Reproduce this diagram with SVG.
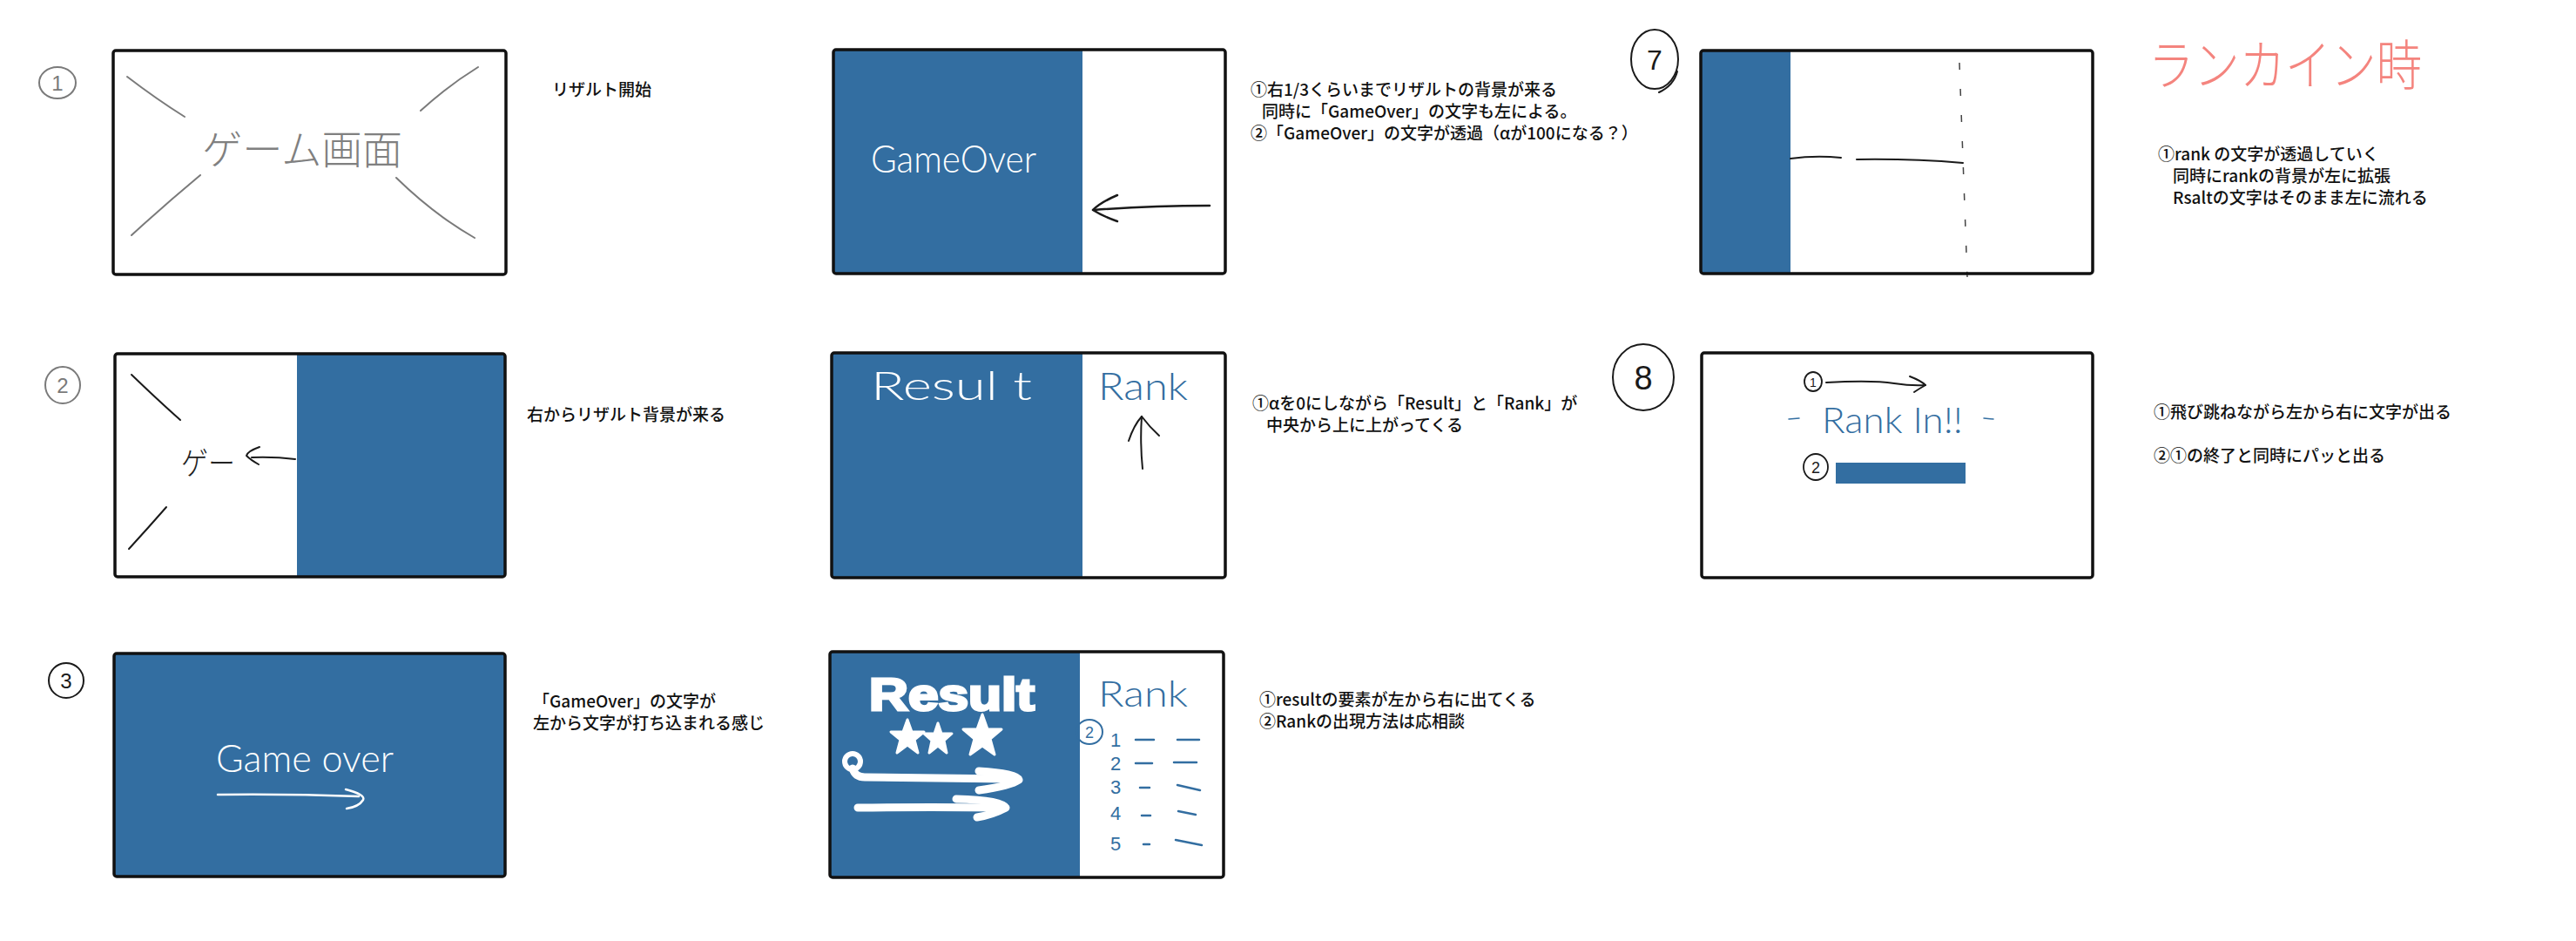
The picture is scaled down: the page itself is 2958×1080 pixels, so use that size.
<svg xmlns="http://www.w3.org/2000/svg" width="2958" height="1080" viewBox="0 0 2958 1080">
<defs>
<style>
.bg{fill:#ffffff}
.frame{fill:none;stroke:#111;stroke-width:3.5;stroke-linejoin:round}
.paper{fill:#ffffff}
.blue{fill:#336ea1}
.note{font-family:"Noto Sans CJK JP","Noto Sans",sans-serif;font-size:19px;font-weight:500;fill:#111}
.hw{font-family:Lato,"Liberation Sans","Noto Sans CJK JP",sans-serif;font-weight:300}
.gray{stroke:#7a7a7a;stroke-width:2;fill:none;stroke-linecap:round}
.ink{stroke:#1a1a1a;stroke-width:2.5;fill:none;stroke-linecap:round;stroke-linejoin:round}
.winks{stroke:#ffffff;stroke-width:2.5;fill:none;stroke-linecap:round;stroke-linejoin:round}
.wthick{stroke:#ffffff;stroke-width:9;fill:none;stroke-linecap:round;stroke-linejoin:round}
.binks{stroke:#336ea1;stroke-width:2.5;fill:none;stroke-linecap:round}
.num{font-family:"Liberation Sans",sans-serif;text-anchor:middle}
</style>
</defs>
<rect class="bg" x="0" y="0" width="2958" height="1080"/>

<!-- Step 1 -->
<g id="step1">
  <ellipse cx="66" cy="95" rx="21" ry="18" class="gray"/>
  <text x="66" y="104" class="num" font-size="24" fill="#7a7a7a">1</text>
  <rect x="130" y="58" width="451" height="257" rx="3" class="paper"/>
  <path class="gray" d="M146,88 Q180,114 212,134"/>
  <path class="gray" d="M549,77 Q515,98 483,127"/>
  <path class="gray" d="M230,201 Q188,236 151,270"/>
  <path class="gray" d="M455,204 Q498,246 545,273"/>
  <text x="232" y="188" font-family="Noto Sans CJK JP,sans-serif" font-weight="300" font-size="46" fill="#808080" textLength="230" lengthAdjust="spacingAndGlyphs">ゲーム画面</text>
  <rect x="130" y="58" width="451" height="257" rx="3" class="frame"/>
  <text x="634" y="110" class="note">リザルト開始</text>
</g>

<!-- Step 2 -->
<g id="step2">
  <ellipse cx="72" cy="442" rx="20" ry="21" class="gray"/>
  <text x="72" y="451" class="num" font-size="24" fill="#7a7a7a">2</text>
  <rect x="132" y="406" width="448" height="256" rx="3" class="paper"/>
  <rect x="341" y="406" width="239" height="256" class="blue"/>
  <path class="ink" style="stroke-width:2" d="M151,430 Q180,458 207,482"/>
  <path class="ink" style="stroke-width:2" d="M191,582 Q170,606 148,630"/>
  <text x="208" y="545" font-family="Noto Sans CJK JP,sans-serif" font-weight="300" font-size="36" fill="#222" textLength="62" lengthAdjust="spacingAndGlyphs">ゲー</text>
  <path class="ink" style="stroke-width:2" d="M298,513 Q284,518 283,523 Q288,528 297,533"/>
  <path class="ink" style="stroke-width:2" d="M289,525 Q315,524 339,527"/>
  <rect x="132" y="406" width="448" height="256" rx="3" class="frame"/>
  <text x="605" y="483" class="note">右からリザルト背景が来る</text>
</g>

<!-- Step 3 -->
<g id="step3">
  <ellipse cx="76" cy="781" rx="20" ry="20" class="ink" style="stroke-width:2"/>
  <text x="76" y="790" class="num" font-size="24" fill="#1a1a1a">3</text>
  <rect x="131" y="750" width="449" height="256" rx="3" class="blue"/>
  <text x="248" y="886" class="hw" font-size="44" fill="#ffffff" textLength="204" lengthAdjust="spacingAndGlyphs">Game over</text>
  <path class="winks" d="M250,912 Q330,911 412,914"/>
  <path class="winks" d="M397,906 Q420,912 417,918 Q412,926 398,928"/>
  <rect x="131" y="750" width="449" height="256" rx="3" class="frame"/>
  <text x="612" y="812" class="note">「GameOver」の文字が</text>
  <text x="612" y="837" class="note">左から文字が打ち込まれる感じ</text>
</g>

<!-- Step 4 -->
<g id="step4">
  <rect x="957" y="57" width="450" height="257" rx="3" class="paper"/>
  <rect x="957" y="57" width="286" height="257" class="blue"/>
  <text x="1000" y="198" class="hw" font-size="44" fill="#ffffff" textLength="190" lengthAdjust="spacingAndGlyphs">GameOver</text>
  <path class="ink" d="M1389,236 Q1320,236 1256,241"/>
  <path class="ink" d="M1283,224 Q1264,232 1255,241 Q1266,248 1283,254"/>
  <rect x="957" y="57" width="450" height="257" rx="3" class="frame"/>
  <text x="1436" y="110" class="note">①右1/3くらいまでリザルトの背景が来る</text>
  <text x="1449" y="135" class="note">同時に「GameOver」の文字も左による。</text>
  <text x="1436" y="160" class="note">②「GameOver」の文字が透過（αが100になる？）</text>
</g>

<!-- Step 5 -->
<g id="step5">
  <rect x="955" y="405" width="452" height="258" rx="3" class="paper"/>
  <rect x="955" y="405" width="288" height="258" class="blue"/>
  <text x="1000" y="459" class="hw" font-size="46" fill="#ffffff" textLength="185" lengthAdjust="spacingAndGlyphs">Resul t</text>
  <text x="1261" y="459" class="hw" font-size="44" fill="#336ea1" textLength="103" lengthAdjust="spacingAndGlyphs">Rank</text>
  <path class="ink" style="stroke-width:2" d="M1311,478 Q1309,508 1312,538"/>
  <path class="ink" style="stroke-width:2" d="M1296,506 Q1302,488 1311,478 Q1320,490 1331,500"/>
  <rect x="955" y="405" width="452" height="258" rx="3" class="frame"/>
  <text x="1438" y="470" class="note">①αを0にしながら「Result」と「Rank」が</text>
  <text x="1454" y="495" class="note">中央から上に上がってくる</text>
</g>

<!-- Step 6 -->
<g id="step6">
  <rect x="953" y="748" width="452" height="259" rx="3" class="paper"/>
  <rect x="953" y="748" width="287" height="259" class="blue"/>
  <text x="998" y="815" font-family="Liberation Sans,sans-serif" font-size="52" font-weight="bold" fill="#ffffff" stroke="#ffffff" stroke-width="3" textLength="190" lengthAdjust="spacingAndGlyphs">Result</text>
  <polygon fill="#ffffff" stroke="#ffffff" stroke-width="3" stroke-linejoin="round" points="1042,826 1047,840 1061,840 1050,849 1054,864 1042,855 1030,864 1034,849 1023,840 1037,840"/>
  <polygon fill="#ffffff" stroke="#ffffff" stroke-width="3" stroke-linejoin="round" points="1077,830 1081,842 1093,842 1084,850 1087,864 1077,856 1067,864 1070,850 1061,842 1073,842"/>
  <polygon fill="#ffffff" stroke="#ffffff" stroke-width="3" stroke-linejoin="round" points="1128,820 1134,837 1150,837 1137,848 1142,866 1128,856 1114,866 1119,848 1106,837 1122,837"/>
  <circle cx="979" cy="874" r="9" fill="none" stroke="#ffffff" stroke-width="6"/>
  <path class="wthick" d="M979,882 Q982,892 993,892 Q1075,893 1158,894"/>
  <path class="wthick" d="M1124,885 Q1168,888 1170,895 Q1160,902 1124,907"/>
  <path class="wthick" d="M985,927 Q1070,926 1154,927"/>
  <path class="wthick" d="M1098,917 Q1150,918 1155,927 Q1140,935 1122,938"/>
  <text x="1261" y="811" class="hw" font-size="42" fill="#336ea1" textLength="103" lengthAdjust="spacingAndGlyphs">Rank</text>
  <ellipse cx="1251" cy="840" rx="15" ry="14" class="binks" style="stroke-width:2"/>
  <text x="1251" y="847" class="num" font-size="18" fill="#336ea1">2</text>
  <g font-family="Liberation Sans,sans-serif" font-size="22" fill="#336ea1">
    <text x="1275" y="857">1</text>
    <text x="1275" y="884">2</text>
    <text x="1275" y="911">3</text>
    <text x="1275" y="941">4</text>
    <text x="1275" y="976">5</text>
  </g>
  <g class="binks" style="stroke-width:2.5">
    <path d="M1304,849 L1325,849"/><path d="M1352,849 L1377,849"/>
    <path d="M1304,876 L1323,876"/><path d="M1348,875 L1374,875"/>
    <path d="M1309,904 L1320,904"/><path d="M1352,901 L1378,907"/>
    <path d="M1311,936 L1321,936"/><path d="M1353,931 L1373,935"/>
    <path d="M1313,969 L1320,969"/><path d="M1350,964 L1380,970"/>
  </g>
  <rect x="953" y="748" width="452" height="259" rx="3" class="frame"/>
  <text x="1446" y="810" class="note">①resultの要素が左から右に出てくる</text>
  <text x="1446" y="835" class="note">②Rankの出現方法は応相談</text>
</g>

<!-- Step 7 -->
<g id="step7">
  <ellipse cx="1900" cy="68" rx="27" ry="34" class="ink" style="stroke-width:2"/>
  <path class="ink" style="stroke-width:2" d="M1926,82 Q1922,98 1905,106"/>
  <text x="1900" y="80" class="num" font-size="32" fill="#1a1a1a">7</text>
  <rect x="1953" y="58" width="450" height="256" rx="3" class="paper"/>
  <rect x="1953" y="58" width="103" height="256" class="blue"/>
  <path d="M2250,72 L2259,318" stroke="#444" stroke-width="1.5" stroke-dasharray="8 22" fill="none"/>
  <path class="ink" style="stroke-width:2" d="M2056,182 Q2085,178 2114,181"/>
  <path class="ink" style="stroke-width:2" d="M2132,183 Q2195,182 2254,187"/>
  <rect x="1953" y="58" width="450" height="256" rx="3" class="frame"/>
  <text x="2467" y="98" font-family="Noto Sans CJK JP,sans-serif" font-weight="300" font-size="62" fill="#f4847e" textLength="314" lengthAdjust="spacingAndGlyphs">ランカイン時</text>
  <text x="2478" y="184" class="note">①rank の文字が透過していく</text>
  <text x="2495" y="209" class="note">同時にrankの背景が左に拡張</text>
  <text x="2495" y="234" class="note">Rsaltの文字はそのまま左に流れる</text>
</g>

<!-- Step 8 -->
<g id="step8">
  <ellipse cx="1887" cy="433" rx="35" ry="38" class="ink" style="stroke-width:2"/>
  <text x="1887" y="447" class="num" font-size="38" fill="#1a1a1a">8</text>
  <rect x="1954" y="405" width="449" height="258" rx="3" class="paper"/>
  <ellipse cx="2082" cy="438" rx="10" ry="11" class="ink" style="stroke-width:1.8"/>
  <text x="2082" y="444" class="num" font-size="14" fill="#1a1a1a">1</text>
  <path class="ink" style="stroke-width:2" d="M2097,439 Q2150,436 2175,440 Q2195,443 2211,442"/>
  <path class="ink" style="stroke-width:2" d="M2193,432 Q2206,437 2211,442 Q2204,446 2198,450"/>
  <path class="binks" style="stroke-width:1.5" d="M2054,481 L2066,480"/>
  <text x="2092" y="497" class="hw" font-size="42" fill="#336ea1" textLength="162" lengthAdjust="spacingAndGlyphs">Rank In!!</text>
  <path class="binks" style="stroke-width:1.5" d="M2278,480 L2289,481"/>
  <ellipse cx="2085" cy="536" rx="14" ry="15" class="ink" style="stroke-width:1.8"/>
  <text x="2085" y="543" class="num" font-size="18" fill="#1a1a1a">2</text>
  <rect x="2108" y="531" width="149" height="24" class="blue"/>
  <rect x="1954" y="405" width="449" height="258" rx="3" class="frame"/>
  <text x="2473" y="480" class="note">①飛び跳ねながら左から右に文字が出る</text>
  <text x="2473" y="530" class="note">②①の終了と同時にパッと出る</text>
</g>
</svg>
